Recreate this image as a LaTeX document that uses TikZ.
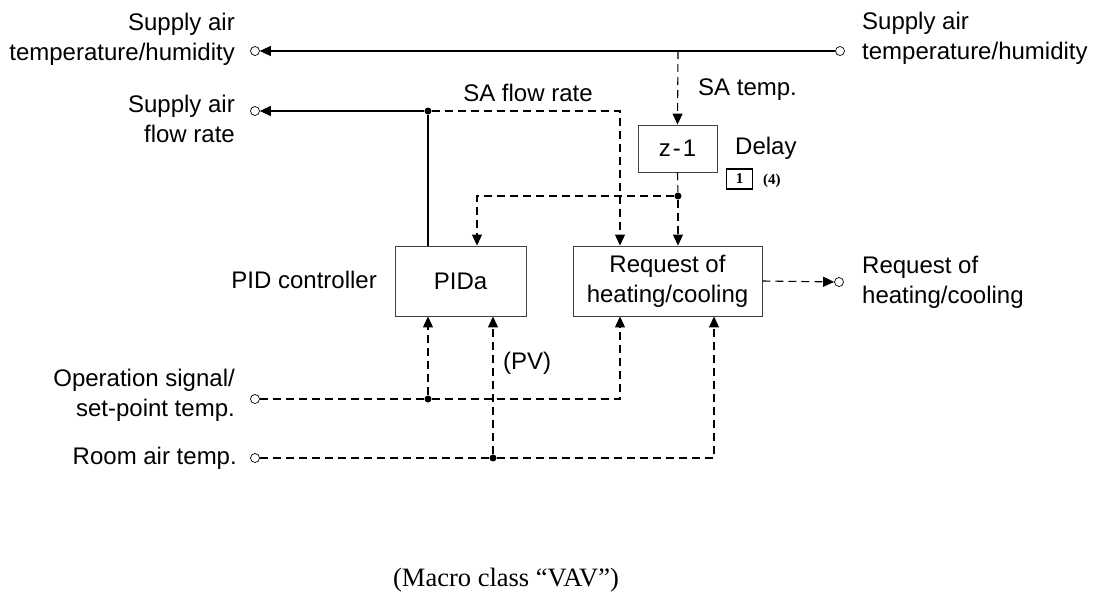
\documentclass[tikz,border=0pt]{standalone}
\usepackage{fontspec}
\setmainfont{Liberation Sans}
\newfontfamily\capfont{Liberation Serif}
\usetikzlibrary{arrows.meta, positioning}
\tikzset{block/.style={draw=black!75, line width=0.9pt, minimum width=131pt, minimum height=70pt, align=center, inner sep=0pt},
term/.style={circle, draw, fill=white, inner sep=0pt, minimum size=9pt, line width=0.7pt},
jdot/.style={circle, fill, inner sep=0pt, minimum size=7pt},
sig/.style={line width=1.1pt},
dsig/.style={line width=1.1pt, dash pattern=on 8pt off 5pt},
tip/.style={-{Triangle[length=11pt,width=10pt]}},
lbl/.style={inner sep=0pt, align=#1},
lbl/.default={left}}

\begin{document}
\begin{tikzpicture}[x=1pt, y=-1pt, font=\fontsize{24}{30}\selectfont]
 \useasboundingbox (0,0) rectangle (1101,594);

 % blocks
 \node[block] (pida) at (460.5,281) {PIDa};
 \node[block, minimum width=189pt] (request) at (667.5,281) {Request of\\heating/cooling};
 \node[block, minimum width=79pt, minimum height=47pt] (delay) at (677.5,148.5) {z\kern2pt-\kern2pt1};

 % terminals
 \node[term] (satout) at (255,51) {};
 \node[term] (satin) at (840,51) {};
 \node[term] (flowout) at (255,111) {};
 \node[term] (reqout) at (839,282) {};
 \node[term] (opin) at (255,399) {};
 \node[term] (roomin) at (255,458) {};

 % junctions
 \node[jdot] (jflow) at (428,111) {};
 \node[jdot] (jdelay) at (678,196) {};
 \node[jdot] (jop) at (428,399) {};
 \node[jdot] (jroom) at (493,458) {};
 \coordinate (tsa) at (678,51);

 % top signals
 \draw[sig, tip] (satin) -- (satout);
 \draw[dsig, tip] (tsa) -- (delay.north);
 \draw[dsig] (delay.south) -- (jdelay);
 \draw[dsig, tip] (jdelay) -- (request.north -| jdelay);
 \draw[dsig, tip] (jdelay) -| ([xshift=16.5pt]pida.north);
 \draw[sig, tip] (jflow) -- (flowout);
 \draw[sig] (jflow) -- (jflow |- pida.north);
 \draw[dsig, tip] (jflow) -| ([xshift=-47.5pt]request.north);

 % bottom signals
 \draw[dsig] (opin) -- (jop);
 \draw[dsig, tip] (jop) -- (jop |- pida.south);
 \draw[dsig, tip] (jop) -| ([xshift=-47.5pt]request.south);
 \draw[dsig] (roomin) -- (jroom);
 \draw[dsig, tip] (jroom) -- (jroom |- pida.south);
 \draw[dsig, tip] (jroom) -| ([xshift=46.5pt]request.south);
 \draw[dsig, tip] (request.east) -- (reqout);

 % labels
 \node[lbl=right, anchor=east] (satoutlabel) at (235,39) {Supply air\\temperature/humidity};
 \node[lbl, anchor=west] (satinlabel) at (862,38) {Supply air\\temperature/humidity};
 \node[lbl=right, anchor=east] (flowoutlabel) at (235,119) {Supply air\\flow rate};
 \node[lbl, anchor=west] (reqoutlabel) at (862,282) {Request of\\heating/cooling};
 \node[lbl=right, anchor=east] (oplabel) at (235,395) {Operation signal/\\set-point temp.};
 \node[lbl, anchor=east] (roomlabel) at (237,458) {Room air temp.};
 \node[lbl, anchor=east] (pidlabel) at (377,280) {PID controller};
 \node[lbl] (flowlabel) at (528,93) {SA flow rate};
 \node[lbl, anchor=west] (templabel) at (698,90) {SA temp.};
 \node[lbl, anchor=west] (delaylabel) at (735,148) {Delay};
 \node[lbl, anchor=west] (pvlabel) at (503,363) {(PV)};
 \node[draw, line width=1.6pt, minimum width=26pt, minimum height=20pt, inner sep=0pt, font=\capfont\bfseries\fontsize{15}{17}\selectfont] (refbox) at (739.5,179) {1};
 \node[lbl, anchor=west, font=\capfont\bfseries\fontsize{15}{17}\selectfont] (reflabel) at (763,181) {(4)};
 \node[lbl, font=\capfont\fontsize{26.5}{30}\selectfont] (caption) at (506,580) {(Macro class “VAV”)};
\end{tikzpicture}
\end{document}
